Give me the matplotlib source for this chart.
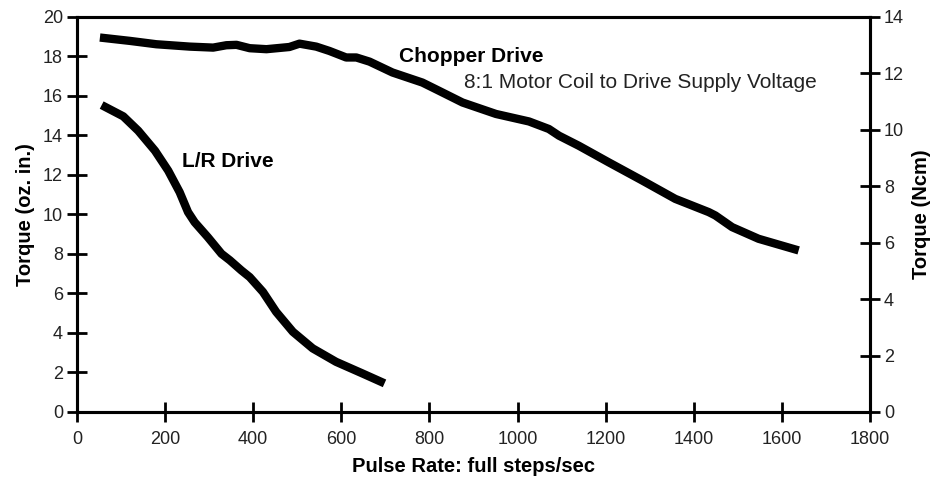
import matplotlib
matplotlib.use('Agg')
import matplotlib.pyplot as plt

# torque curves, values (oz. in. vs full steps/sec)
chopper_x = [52, 120, 180, 256, 309, 339, 362, 392, 430, 482, 505, 543, 573, 611, 634, 664,
             716, 784, 822, 875, 951, 1026, 1071, 1094, 1139, 1207, 1283, 1358, 1434, 1449,
             1487, 1547, 1638]
chopper_y = [18.96, 18.79, 18.62, 18.5, 18.45, 18.57, 18.59, 18.42, 18.37, 18.48, 18.65, 18.5, 18.28, 17.95, 17.95, 17.74,
             17.19, 16.68, 16.26, 15.67, 15.09, 14.71, 14.33, 13.99, 13.48, 12.64, 11.72, 10.79, 10.12, 9.95,
             9.36, 8.77, 8.18]

lr_x = [56, 105, 139, 177, 207, 233, 252, 267, 297, 328, 347, 373, 392, 422, 452, 490, 535, 588, 648, 698]
lr_y = [15.54, 14.97, 14.24, 13.23, 12.22, 11.13, 10.12, 9.61, 8.85, 8.01, 7.68, 7.17, 6.83, 6.08, 5.07, 4.06, 3.22, 2.54, 1.95, 1.45]

x_ticks = list(range(0, 1801, 200))
left_ticks = list(range(0, 21, 2))
right_ticks = list(range(0, 15, 2))

plt.rcParams['font.family'] = ['Liberation Sans', 'DejaVu Sans']

fig = plt.figure(figsize=(9.3, 4.8), dpi=100)
ax = fig.add_axes([0.0828, 0.1417, 0.8527, 0.8229])

ax.plot(chopper_x, chopper_y, color='black', lw=6, solid_capstyle='butt', solid_joinstyle='round')
ax.plot(lr_x, lr_y, color='black', lw=6, solid_capstyle='butt', solid_joinstyle='round')

ax.set_xlim(0, 1800)
ax.set_ylim(0, 20)
ax.set_xticks(x_ticks)
ax.set_yticks(left_ticks)

for s in ax.spines.values():
    s.set_linewidth(2.2)
ax.tick_params(direction='inout', length=14, width=2, labelsize=13, pad=3, labelcolor='#222222')
ax.tick_params(axis='x', pad=6.5)

ax.set_xlabel('Pulse Rate: full steps/sec', fontsize=14.5, fontweight='bold', labelpad=7)
ax.set_ylabel('Torque (oz. in.)', fontsize=14.5, fontweight='bold', labelpad=6)

ax2 = ax.twinx()
ax2.set_ylim(0, 14)
ax2.set_yticks(right_ticks)
ax2.tick_params(direction='inout', length=14, width=2, labelsize=13, pad=3, labelcolor='#222222')
for s in ax2.spines.values():
    s.set_linewidth(2.2)
ax2.set_ylabel('Torque (Ncm)', fontsize=14.5, fontweight='bold', labelpad=6)

ax.text(732, 18.0, 'Chopper Drive', fontsize=15, fontweight='bold', va='center', ha='left')
ax.text(879, 16.7, '8:1 Motor Coil to Drive Supply Voltage', fontsize=15, va='center', ha='left', color='#222222')
ax.text(239, 12.68, 'L/R Drive', fontsize=15, fontweight='bold', va='center', ha='left')

fig.savefig('out.png', dpi=100)
